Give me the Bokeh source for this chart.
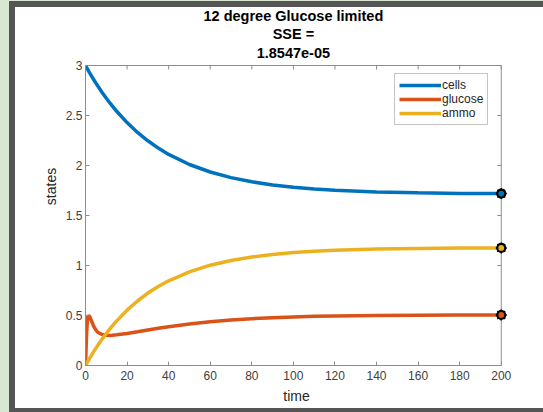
from bokeh.plotting import figure
from bokeh.layouts import column
from bokeh.core.properties import value
from bokeh.models import Range1d, FixedTicker, Legend, LegendItem, ColumnDataSource
from bokeh.embed import file_html
from bokeh.resources import INLINE

# ---- data ----
time = [0, 0.5, 1, 1.5, 2, 3, 4, 5, 6, 8, 10, 12, 15, 20, 25, 30, 35, 40, 50, 60,
        70, 80, 90, 100, 110, 120, 140, 160, 180, 200]
cells = [3.000, 2.981, 2.963, 2.944, 2.927, 2.892, 2.857, 2.824, 2.792, 2.731, 2.673,
         2.618, 2.542, 2.429, 2.331, 2.247, 2.174, 2.111, 2.010, 1.935, 1.879, 1.837,
         1.806, 1.783, 1.766, 1.753, 1.736, 1.727, 1.721, 1.719]
glucose = [0.000, 0.300, 0.480, 0.500, 0.490, 0.440, 0.390, 0.355, 0.330, 0.310, 0.302,
           0.301, 0.307, 0.320, 0.337, 0.355, 0.372, 0.388, 0.415, 0.437, 0.455, 0.468,
           0.478, 0.486, 0.492, 0.496, 0.501, 0.503, 0.504, 0.505]
ammo = [0.000, 0.019, 0.037, 0.055, 0.073, 0.107, 0.141, 0.173, 0.204, 0.264, 0.320,
        0.373, 0.446, 0.554, 0.645, 0.724, 0.790, 0.847, 0.937, 1.003, 1.050, 1.085,
        1.110, 1.129, 1.142, 1.152, 1.164, 1.171, 1.174, 1.176]
series_names = ["cells", "glucose", "ammo"]
series_colors = ["#0072BD", "#D95319", "#EDB120"]
x_ticks = [0, 20, 40, 60, 80, 100, 120, 140, 160, 180, 200]
y_ticks = [0, 0.5, 1, 1.5, 2, 2.5, 3]
y_tick_labels = ["0", "0.5", "1", "1.5", "2", "2.5", "3"]
title_lines = ["12 degree Glucose limited", "SSE =", "1.8547e-05"]
x_label = "time"
y_label = "states"

X_MIN, X_MAX, Y_MIN, Y_MAX = 0, 200, 0, 3

# ---- layout constants (pixels inside the figure canvas) ----
PAGE_W, PAGE_H = 543, 412
PAD_GREEN_L, PAD_GREEN_T = 9, 1
PAD_DARK_L, PAD_DARK_T, PAD_DARK_B = 6, 6, 4
FIG_W = PAGE_W - PAD_GREEN_L - PAD_DARK_L
FIG_H = PAGE_H - PAD_GREEN_T - PAD_DARK_T - PAD_DARK_B
AX_LEFT, AX_TOP, AX_W, AX_H = 70, 58, 416, 300   # axes box (0..200 x 0..3)
PX_X = AX_W / (X_MAX - X_MIN)
PX_Y = AX_H / (Y_MAX - Y_MIN)
X_PAD = 3                                  # room right of x=200 for the end markers
Y_TOP = Y_MAX + AX_TOP / PX_Y              # frame reaches the canvas top (title area)
FRAME_W = round((X_MAX + X_PAD - X_MIN) * PX_X)
TITLE_CENTERS = [8, 26, 45]                # line centres, px from canvas top

FONT = "Liberation Sans"
AX_GRAY = "#8c8c8c"
TXT = "#404040"
GREEN = "#d8e6d2"
DARK = "#555555"

fig = figure(width=FIG_W, height=FIG_H, output_backend="svg", toolbar_location=None,
             x_range=Range1d(X_MIN, X_MAX + X_PAD), y_range=Range1d(Y_MIN, Y_TOP),
             min_border_left=AX_LEFT, min_border_right=FIG_W - AX_LEFT - FRAME_W,
             min_border_top=0, min_border_bottom=FIG_H - AX_TOP - AX_H,
             x_axis_label=x_label, y_axis_label=y_label,
             styles={"background-color": "white"})
fig.title.visible = False
fig.outline_line_color = None
fig.grid.visible = False
fig.background_fill_color = "white"
fig.border_fill_color = "white"

for ax in (fig.xaxis[0], fig.yaxis[0]):
    ax.axis_line_color = AX_GRAY
    ax.major_tick_line_color = AX_GRAY
    ax.major_tick_in = 4
    ax.major_tick_out = 0
    ax.minor_tick_line_color = None
    ax.major_label_text_font = FONT
    ax.major_label_text_font_size = "12px"
    ax.major_label_text_color = TXT
    ax.axis_label_text_font = FONT
    ax.axis_label_text_font_size = "14px"
    ax.axis_label_text_font_style = "normal"
    ax.axis_label_text_color = "#262626"

fig.xaxis.ticker = FixedTicker(ticks=x_ticks)
fig.xaxis.bounds = (X_MIN, X_MAX)
fig.xaxis.major_label_standoff = 5
fig.xaxis.axis_label_standoff = 5
fig.yaxis.ticker = FixedTicker(ticks=y_ticks)
fig.yaxis.bounds = (Y_MIN, Y_MAX)
fig.yaxis.major_label_overrides = {float(v): s for v, s in zip(y_ticks, y_tick_labels)}
fig.yaxis.major_label_standoff = 3
fig.yaxis.axis_label_standoff = 4

# title lines, centred over the axes box
title_y = [Y_TOP - c / PX_Y for c in TITLE_CENTERS]
fig.text(x=[(X_MIN + X_MAX) / 2] * len(title_lines), y=title_y, text=title_lines,
         text_align="center", text_baseline="middle", text_font=value(FONT),
         text_font_size="14.5px", text_font_style="bold", text_color="#000000")

# top and right sides of the axes box with inward ticks
tick_dx = 4 / PX_X
tick_dy = 4 / PX_Y
fig.segment(x0=[X_MIN, X_MAX], x1=[X_MAX, X_MAX], y0=[Y_MAX, Y_MIN], y1=[Y_MAX, Y_MAX],
            line_color=AX_GRAY, line_width=1)
fig.segment(x0=[X_MAX - tick_dx] * len(y_ticks), x1=[X_MAX] * len(y_ticks),
            y0=y_ticks, y1=y_ticks, line_color=AX_GRAY, line_width=1)
fig.segment(x0=x_ticks, x1=x_ticks, y0=[Y_MAX - tick_dy] * len(x_ticks),
            y1=[Y_MAX] * len(x_ticks), line_color=AX_GRAY, line_width=1)

src = ColumnDataSource(dict(time=time, cells=cells, glucose=glucose, ammo=ammo))
items = []
for name, col in zip(series_names, series_colors):
    r = fig.line("time", name, source=src, line_color=col, line_width=3.5)
    items.append(LegendItem(label=name, renderers=[r]))

for name, col in zip(series_names, series_colors):
    vals = {"cells": cells, "glucose": glucose, "ammo": ammo}[name]
    fig.scatter([time[-1]], [vals[-1]], marker="asterisk", size=11, line_color="black", line_width=1.5)
    fig.scatter([time[-1]], [vals[-1]], marker="circle", size=8, fill_color=col,
                line_color="black", line_width=2.2)

legend = Legend(items=items, location=(309, 240), margin=0, padding=4, spacing=-2,
                glyph_width=42, glyph_height=14, label_height=14, label_standoff=1,
                label_text_font=FONT, label_text_font_size="12px", label_text_color="#262626",
                border_line_color="#8c8c8c", border_line_width=1, background_fill_alpha=1)
fig.add_layout(legend, "center")

# window decoration: dark frame on the left/top/bottom, green page behind
inner = column(fig, width=FIG_W + PAD_DARK_L, height=FIG_H + PAD_DARK_T + PAD_DARK_B,
               styles={"background-color": DARK, "box-sizing": "border-box",
                       "padding-left": f"{PAD_DARK_L}px", "padding-top": f"{PAD_DARK_T}px",
                       "padding-bottom": f"{PAD_DARK_B}px"})
p = column(inner, width=PAGE_W, height=PAGE_H,
           styles={"background-color": GREEN, "box-sizing": "border-box", "overflow": "hidden",
                   "position": "fixed", "top": "0px", "left": "0px",
                   "padding-left": f"{PAD_GREEN_L}px", "padding-top": f"{PAD_GREEN_T}px"})

open("out.html", "w").write(file_html(p, INLINE))
